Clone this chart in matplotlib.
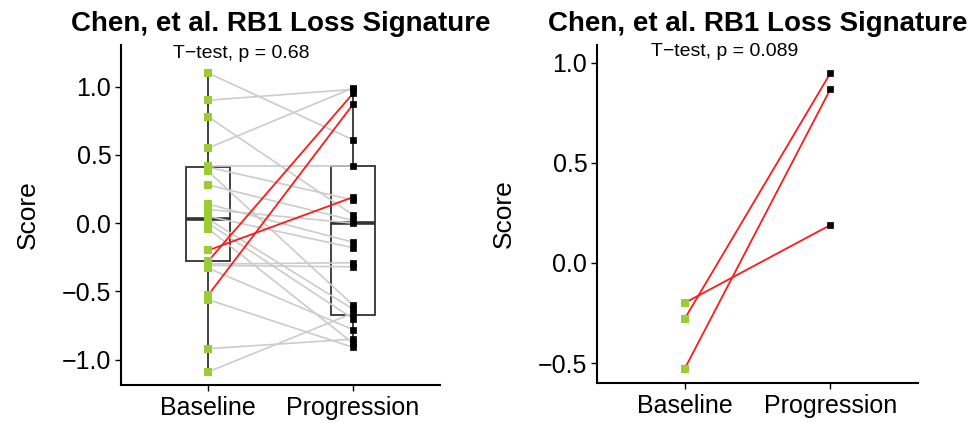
import matplotlib
matplotlib.use("Agg")
import matplotlib.pyplot as plt

plt.rcParams['font.family'] = ['Liberation Sans', 'DejaVu Sans']

# data
groups = ["Baseline", "Progression"]

# grey pairs (left panel only)
base_vals = [1.10, 0.90, 0.78, 0.55, 0.42, 0.41, 0.38, 0.28, 0.14, 0.10,
             0.05, 0.03, 0.00, -0.04, -0.30, -0.31, -0.33, -0.56, -0.92, -1.09]
prog_vals = [0.61, 0.98, 0.06, 0.99, 0.42, 0.17, -0.60, 0.02, -0.14, 0.00,
             -0.18, -0.63, -0.70, -0.88, -0.29, -0.32, -0.78, -0.91, -0.85, -0.66]

# red pairs (both panels)
red_base = [-0.20, -0.28, -0.53]
red_prog = [0.19, 0.95, 0.87]

# box summary: [Baseline, Progression]
box_q1 = [-0.28, -0.67]
box_med = [0.03, 0.00]
box_q3 = [0.41, 0.42]
box_lo = [-1.09, -0.92]
box_hi = [1.10, 0.99]

p_left = "T\u2212test, p = 0.68"
p_right = "T\u2212test, p = 0.089"
title = "Chen, et al. RB1 Loss Signature"

GREEN = "#9acd32"
GREY = "#cccccc"
RED = "#ff1a1a"


def style_axes(ax, ylim, yticks):
    ax.set_xlim(0.4, 2.6)
    ax.set_ylim(*ylim)
    ax.set_yticks(yticks)
    ax.set_yticklabels([f"{t:.1f}".replace("-", "\u2212") for t in yticks])
    ax.set_xticks([1, 2])
    ax.set_xticklabels(groups)
    for s in ["top", "right"]:
        ax.spines[s].set_visible(False)
    for s in ["left", "bottom"]:
        ax.spines[s].set_linewidth(1.5)
    ax.tick_params(axis="y", labelsize=18, length=4, width=1, pad=3)
    ax.tick_params(axis="x", labelsize=18, length=4, width=1, pad=4)
    ax.set_ylabel("Score", fontsize=19, labelpad=16)
    ax.set_title(title, fontsize=20, fontweight="bold", pad=10)


fig = plt.figure(figsize=(9.73, 4.23), dpi=100)
ax1 = fig.add_axes([121 / 973, 38 / 423, 319 / 973, 340 / 423])
ax2 = fig.add_axes([597 / 973, 40 / 423, 321 / 973, 338 / 423])

# left panel: box + paired lines
stats = []
for i in range(2):
    stats.append(dict(q1=box_q1[i], med=box_med[i], q3=box_q3[i],
                      whislo=box_lo[i], whishi=box_hi[i], fliers=[]))
ax1.bxp(stats, positions=[1, 2], widths=0.3, showcaps=False, showfliers=False,
        patch_artist=True,
        boxprops=dict(facecolor="white", edgecolor="#333333", linewidth=1.3),
        whiskerprops=dict(color="#333333", linewidth=1.3),
        medianprops=dict(color="#333333", linewidth=2.6))

for b, p in zip(base_vals, prog_vals):
    ax1.plot([1, 2], [b, p], color=GREY, lw=1.2, zorder=3)
for b, p in zip(red_base, red_prog):
    ax1.plot([1, 2], [b, p], color=RED, lw=1.3, zorder=4)

ax1.scatter([1] * len(base_vals + red_base), base_vals + red_base, marker="s",
            s=26, color=GREEN, linewidths=0, zorder=5)
ax1.scatter([2] * len(prog_vals + red_prog), prog_vals + red_prog, marker="s",
            s=20, facecolor="black", edgecolor="black", linewidths=0.5, zorder=5)
ax1.text(0.76, 1.24, p_left, fontsize=14, ha="left", va="center")
style_axes(ax1, (-1.186, 1.305), [-1.0, -0.5, 0.0, 0.5, 1.0])

# right panel: only the red pairs
for b, p in zip(red_base, red_prog):
    ax2.plot([1, 2], [b, p], color=RED, lw=1.3, zorder=3)
ax2.scatter([1] * len(red_base), red_base, marker="s", s=26, color=GREEN,
            linewidths=0, zorder=5)
ax2.scatter([2] * len(red_prog), red_prog, marker="s", s=20, facecolor="black",
            edgecolor="black", linewidths=0.5, zorder=5)
ax2.text(0.77, 1.055, p_right, fontsize=14, ha="left", va="center")
style_axes(ax2, (-0.60, 1.09), [-0.5, 0.0, 0.5, 1.0])

fig.savefig("out.png", dpi=100)
